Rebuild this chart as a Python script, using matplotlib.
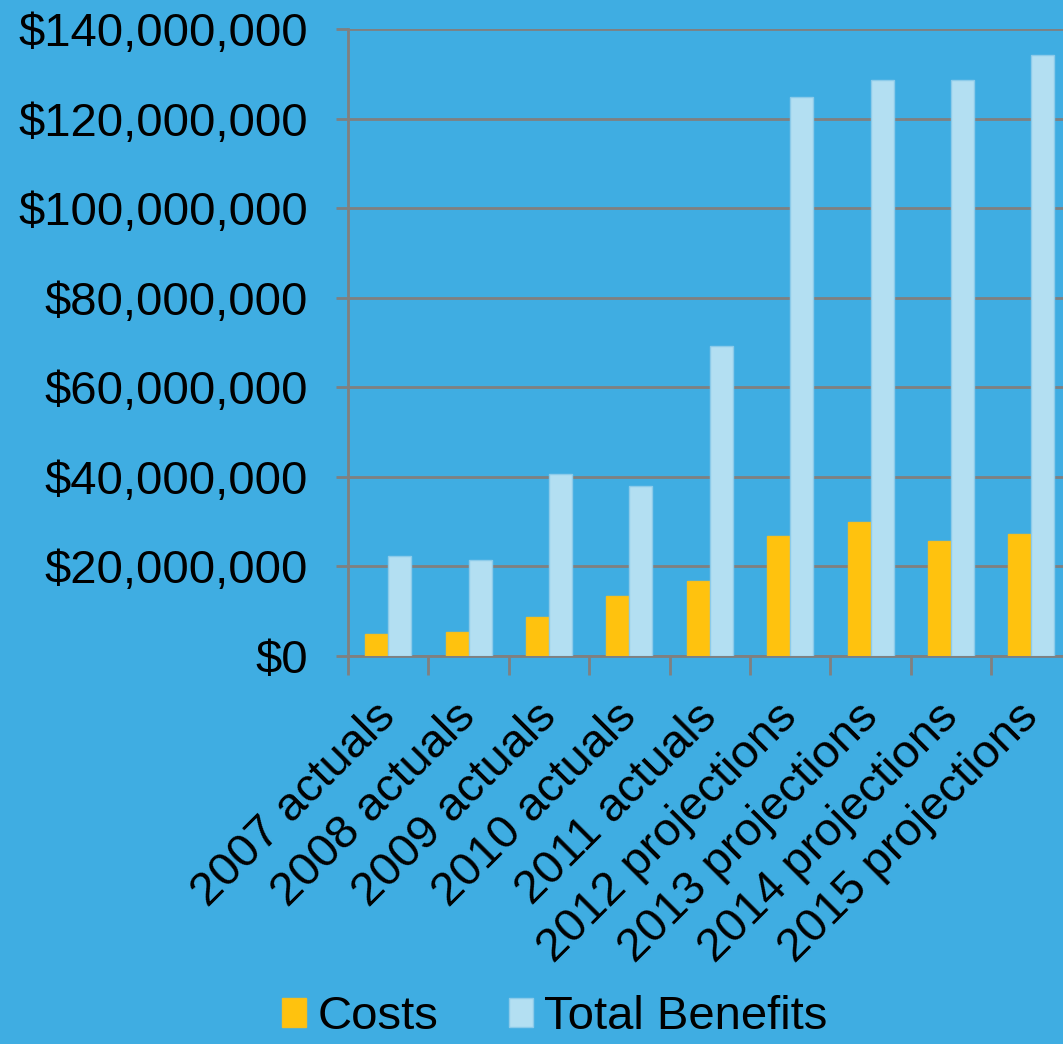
import numpy as np
import matplotlib.pyplot as plt
from matplotlib.ticker import FuncFormatter
from matplotlib.transforms import ScaledTranslation

## Data
categories = ["2007 actuals", "2008 actuals", "2009 actuals", "2010 actuals",
              "2011 actuals", "2012 projections", "2013 projections",
              "2014 projections", "2015 projections"]
costs = [4.9e6, 5.4e6, 8.7e6, 13.4e6, 16.7e6, 26.8e6, 29.9e6, 25.7e6, 27.2e6]
benefits = [22.3e6, 21.4e6, 40.6e6, 37.9e6, 69.2e6, 124.8e6, 128.6e6, 128.6e6, 134.2e6]

bg = "#3FADE2"
plt.rcParams['font.family'] = ['Liberation Sans', 'DejaVu Sans']

fig = plt.figure(figsize=(10.63, 10.44), dpi=100, facecolor=bg)
# axes runs a bit past the right edge, like the original
ax = fig.add_axes([348/1063, (1044-656)/1044, 723.6/1063, 627/1044])
ax.set_facecolor(bg)

x = np.arange(len(categories))
w = 0.286
ax.bar(x - w/2, costs, w, color="#FFC20E", edgecolor="#F5BE1E", linewidth=1, label="Costs", zorder=3)
ax.bar(x + w/2, benefits, w, color="#B3DFF2", edgecolor="#8CCBEA", linewidth=1, label="Total Benefits", zorder=3)

ax.set_xlim(-0.5, len(categories) - 0.5)
ax.set_ylim(0, 140e6)
ax.set_yticks(np.arange(0, 140e6 + 1, 20e6))
ax.yaxis.set_major_formatter(FuncFormatter(lambda v, p: "${:,.0f}".format(v)))
ax.grid(axis='y', color="#808080", linewidth=2, zorder=0)

ax.set_xticks(x)
ax.set_xticks(np.arange(-0.5, len(categories), 1), minor=True)
ax.set_xticklabels(categories, rotation=45, ha='right', va='top', rotation_mode='anchor')
ax.tick_params(axis='x', which='major', length=0, labelsize=34, pad=28)
ax.tick_params(axis='x', which='minor', length=14, width=2, color="#808080")
ax.tick_params(axis='y', length=9, width=2, color="#808080", labelsize=34, pad=20)

# nudge rotated labels left a bit
for lab in ax.get_xticklabels():
    lab.set_transform(lab.get_transform() + ScaledTranslation(-15/100, 0, fig.dpi_scale_trans))

for s in ["top", "right"]:
    ax.spines[s].set_visible(False)
for s in ["left", "bottom"]:
    ax.spines[s].set_color("#808080")
    ax.spines[s].set_linewidth(2)

fig.legend(loc='lower center', bbox_to_anchor=(0.522, -0.036), ncol=2, frameon=False,
           fontsize=34, handlelength=0.5, handleheight=0.55, handletextpad=0.25, columnspacing=1.5)

fig.savefig("out.png", dpi=100, facecolor=bg)
